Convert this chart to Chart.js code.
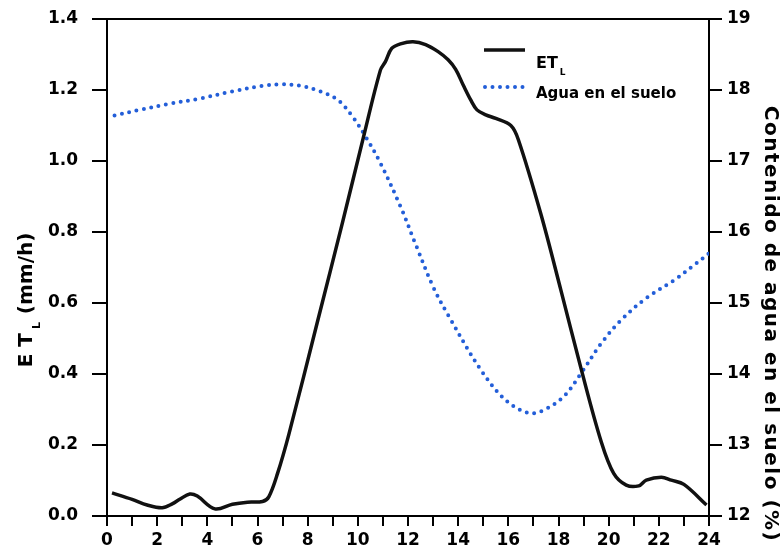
<!DOCTYPE html>
<html>
<head>
<meta charset="utf-8">
<script src="https://cdn.jsdelivr.net/npm/chart.js@4.4.1/dist/chart.umd.min.js"></script>
<style>
  html, body { margin: 0; padding: 0; background: #fff; }
  #wrap { width: 783px; height: 554px; position: relative; }
</style>
</head>
<body>
<div id="wrap"><canvas id="chart"></canvas></div>
<script>
// --- data ---
const etHours = [0.2, 1.0, 1.6, 2.2, 2.6, 2.9, 3.3, 3.6, 4.3, 5.0, 5.6, 6.2, 6.45, 6.8, 7.25, 8.4, 9.4, 10.2, 10.9, 11.1, 11.35, 11.7, 12.2, 12.7, 13.2, 13.6, 13.9, 14.2, 14.5, 14.75, 15.1, 15.5, 16.1, 16.4, 17.3, 18.1, 18.9, 19.7, 20.2, 20.7, 21.2, 21.5, 22.1, 22.5, 23.0, 23.9];
const etValues = [0.065, 0.047, 0.031, 0.023, 0.034, 0.047, 0.062, 0.056, 0.020, 0.033, 0.039, 0.041, 0.054, 0.12, 0.23, 0.55, 0.83, 1.06, 1.256, 1.28, 1.317, 1.33, 1.336, 1.328, 1.308, 1.285, 1.258, 1.214, 1.172, 1.144, 1.13, 1.12, 1.10, 1.06, 0.85, 0.635, 0.415, 0.21, 0.12, 0.087, 0.085, 0.101, 0.109, 0.101, 0.089, 0.031];

const aguaHours = [0.3, 1.3, 2.4, 3.7, 5.0, 6.2, 6.9, 7.7, 8.5, 9.2, 9.8, 10.35, 10.9, 11.7, 12.3, 13.0, 13.6, 14.9, 15.9, 16.8, 17.4, 18.2, 18.9, 19.7, 20.5, 21.5, 22.6, 23.5, 24.0];
const aguaValues = [17.64, 17.72, 17.80, 17.88, 17.98, 18.06, 18.08, 18.06, 17.98, 17.86, 17.62, 17.32, 16.97, 16.36, 15.83, 15.23, 14.83, 14.06, 13.63, 13.45, 13.49, 13.68, 14.01, 14.43, 14.76, 15.07, 15.32, 15.56, 15.70];

const etLabel = "ET";
const etSub = "L";
const aguaLabel = "Agua en el suelo";
const leftTitle = ["E T", "L", " (mm/h)"];
const rightTitle = "Contenido de agua en el suelo (%)";

const BLUE = "#235ed8";
const FONT = "'DejaVu Sans', sans-serif";

function toPoints(xs, ys) {
  return xs.map((x, i) => ({ x: x, y: ys[i] }));
}

// titles, legend and top frame line drawn by hand (subscripts)
const decorations = {
  id: "decorations",
  afterDraw(chart) {
    const ctx = chart.ctx;
    const area = chart.chartArea;
    ctx.save();

    // top frame line
    ctx.strokeStyle = "#000";
    ctx.lineWidth = 2;
    ctx.beginPath();
    ctx.moveTo(area.left - 15, area.top);
    ctx.lineTo(area.right + 13, area.top);
    ctx.stroke();

    // legend
    ctx.lineWidth = 3.5;
    ctx.strokeStyle = "#111";
    ctx.beginPath();
    ctx.moveTo(484, 50);
    ctx.lineTo(525, 50);
    ctx.stroke();

    ctx.strokeStyle = BLUE;
    ctx.lineWidth = 4;
    ctx.lineCap = "round";
    ctx.setLineDash([0, 7.5]);
    ctx.beginPath();
    ctx.moveTo(485, 87);
    ctx.lineTo(525, 87);
    ctx.stroke();
    ctx.setLineDash([]);

    ctx.fillStyle = "#000";
    ctx.textBaseline = "middle";
    ctx.textAlign = "left";
    ctx.font = "bold 16px " + FONT;
    ctx.fillText(etLabel, 536, 64);
    const etw = ctx.measureText(etLabel).width;
    ctx.font = "bold 9px " + FONT;
    ctx.fillText(etSub, 536 + etw + 2, 73);
    ctx.font = "bold 15px " + FONT;
    ctx.fillText(aguaLabel, 536, 94);

    // left axis title
    ctx.save();
    ctx.translate(27, 300);
    ctx.rotate(-Math.PI / 2);
    const big = "bold 20px " + FONT;
    const small = "bold 11px " + FONT;
    ctx.font = big;
    const w1 = ctx.measureText(leftTitle[0]).width;
    const w3 = ctx.measureText(leftTitle[2]).width;
    ctx.font = small;
    const w2 = ctx.measureText(leftTitle[1]).width + 5;
    let x0 = -(w1 + w2 + w3) / 2;
    ctx.font = big;
    ctx.fillText(leftTitle[0], x0, 0);
    ctx.font = small;
    ctx.fillText(leftTitle[1], x0 + w1 + 4, 10);
    ctx.font = big;
    ctx.fillText(leftTitle[2], x0 + w1 + w2, 0);
    ctx.restore();

    // right axis title
    ctx.save();
    ctx.translate(770, 324);
    ctx.rotate(Math.PI / 2);
    ctx.textAlign = "center";
    ctx.font = "bold 20px " + FONT;
    ctx.letterSpacing = "1.5px";
    ctx.fillText(rightTitle, 0, 0);
    ctx.restore();

    ctx.restore();
  }
};

const tickFont = { family: FONT, size: 17, weight: "bold" };

function fitVertical(width) {
  return (scale) => {
    scale.width = width;
    scale.paddingTop = 0;
    scale.paddingBottom = 0;
  };
}

new Chart(document.getElementById("chart"), {
  type: "line",
  data: {
    datasets: [
      {
        label: etLabel,
        data: toPoints(etHours, etValues),
        yAxisID: "y",
        borderColor: "#111",
        borderWidth: 3.5,
        pointRadius: 0,
        tension: 0.35,
        fill: false
      },
      {
        label: aguaLabel,
        data: toPoints(aguaHours, aguaValues),
        yAxisID: "y1",
        borderColor: BLUE,
        borderWidth: 4,
        borderDash: [0, 7.5],
        borderCapStyle: "round",
        pointRadius: 0,
        tension: 0.35,
        fill: false
      }
    ]
  },
  options: {
    responsive: true,
    maintainAspectRatio: false,
    animation: false,
    layout: { padding: { top: 19, left: 0, right: 0, bottom: 0 } },
    plugins: {
      legend: { display: false },
      tooltip: { enabled: false }
    },
    scales: {
      x: {
        type: "linear",
        min: 0,
        max: 24,
        afterFit: (scale) => { scale.height = 38; },
        ticks: {
          stepSize: 1,
          autoSkip: false,
          maxRotation: 0,
          color: "#000",
          font: tickFont,
          padding: 4,
          callback: (v) => (v % 2 === 0 ? v : "")
        },
        grid: { drawOnChartArea: false, tickLength: 10, color: "#000", lineWidth: 2 },
        border: { color: "#000", width: 2 }
      },
      y: {
        position: "left",
        min: 0,
        max: 1.4,
        afterFit: fitVertical(107),
        ticks: {
          stepSize: 0.2,
          color: "#000",
          font: tickFont,
          padding: 14,
          callback: (v) => Number(v).toFixed(1)
        },
        grid: { drawOnChartArea: false, tickLength: 15, color: "#000", lineWidth: 2 },
        border: { color: "#000", width: 2 }
      },
      y1: {
        position: "right",
        min: 12,
        max: 19,
        afterFit: fitVertical(74),
        ticks: {
          stepSize: 1,
          color: "#000",
          font: tickFont,
          padding: 5
        },
        grid: { drawOnChartArea: false, tickLength: 13, color: "#000", lineWidth: 2 },
        border: { color: "#000", width: 2 }
      }
    }
  },
  plugins: [decorations]
});
</script>
</body>
</html>
